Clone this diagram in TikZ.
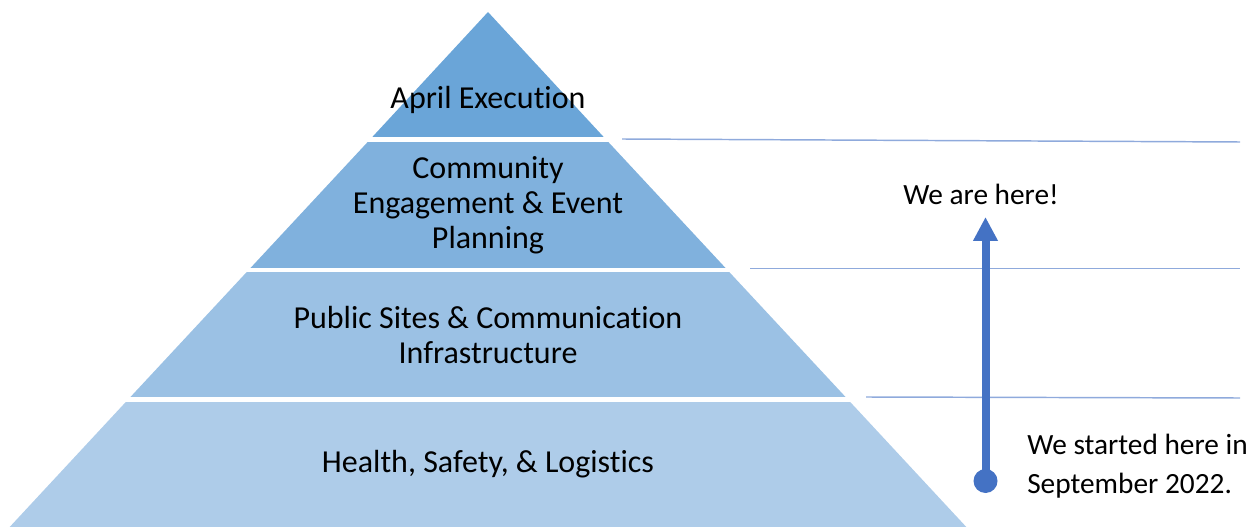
\documentclass[tikz,border=0pt]{standalone}
\usepackage{fontspec}
\setmainfont{Carlito}[Ligatures=NoCommon]
\usetikzlibrary{arrows.meta}
\definecolor{layA}{RGB}{106,165,216}
\definecolor{layB}{RGB}{128,177,221}
\definecolor{layC}{RGB}{155,193,228}
\definecolor{layD}{RGB}{174,204,233}
\definecolor{guide}{RGB}{143,170,220}
\definecolor{arrowblue}{RGB}{68,114,196}
\tikzset{
  gap/.style={draw=white, line width=3.4pt},
  lbl/.style={align=center, font=\fontsize{24}{26.25}\selectfont, text=black, inner sep=0pt},
  side/.style={align=center, font=\fontsize{22}{29.25}\selectfont, text=black, inner sep=0pt},
  guideline/.style={draw=guide, line width=1.1pt},
}
\begin{document}
\begin{tikzpicture}[x=0.75pt,y=-0.75pt]
\useasboundingbox (0,0) rectangle (1260,527);
% layers (apex 488,12; slope 0.93 px/px)
\fill[layD] (6.9,530) -- (128.1,399.5) -- (847.9,399.5) -- (969.1,530) -- cycle;
\fill[layC] (128.1,399.5) -- (248.6,270) -- (727.4,270) -- (847.9,399.5) -- cycle;
\fill[layB] (248.6,270) -- (370,139.5) -- (606,139.5) -- (727.4,270) -- cycle;
\fill[layA] (370,139.5) -- (488,12) -- (606,139.5) -- cycle;
\draw[gap] (360,139.5) -- (616,139.5);
\draw[gap] (238,270) -- (738,270);
\draw[gap] (118,399.5) -- (858,399.5);
% labels
\node[lbl] (l1) at (488,100) {April Execution};
\node[lbl] (l2) at (488,205) {Community\\Engagement \& Event\\Planning};
\node[lbl] (l3) at (488,335) {Public Sites \& Communication\\Infrastructure};
\node[lbl] (l4) at (488,464) {Health, Safety, \& Logistics};
% guide lines
\coordinate (g1a) at (622,139); \coordinate (g1b) at (1240,142);
\coordinate (g2a) at (750,268.5); \coordinate (g2b) at (1240,268.5);
\coordinate (g3a) at (866,397); \coordinate (g3b) at (1240,398);
\draw[guideline] (g1a) -- (g1b);
\draw[guideline] (g2a) -- (g2b);
\draw[guideline] (g3a) -- (g3b);
% arrow
\node[circle, fill=arrowblue, minimum size=18pt, inner sep=0pt] (start) at (985.5,481) {};
\coordinate (tip) at (985.5,217);
\draw[arrowblue, line width=6pt, -{Triangle[width=17.5pt,length=18pt]}] (start.center) -- (tip);
\node[side] (here) at (981,194) {We are here!};
\node[side, align=left, anchor=west] (started) at (1027,466) {We started here in\\September 2022.};
\end{tikzpicture}
\end{document}
